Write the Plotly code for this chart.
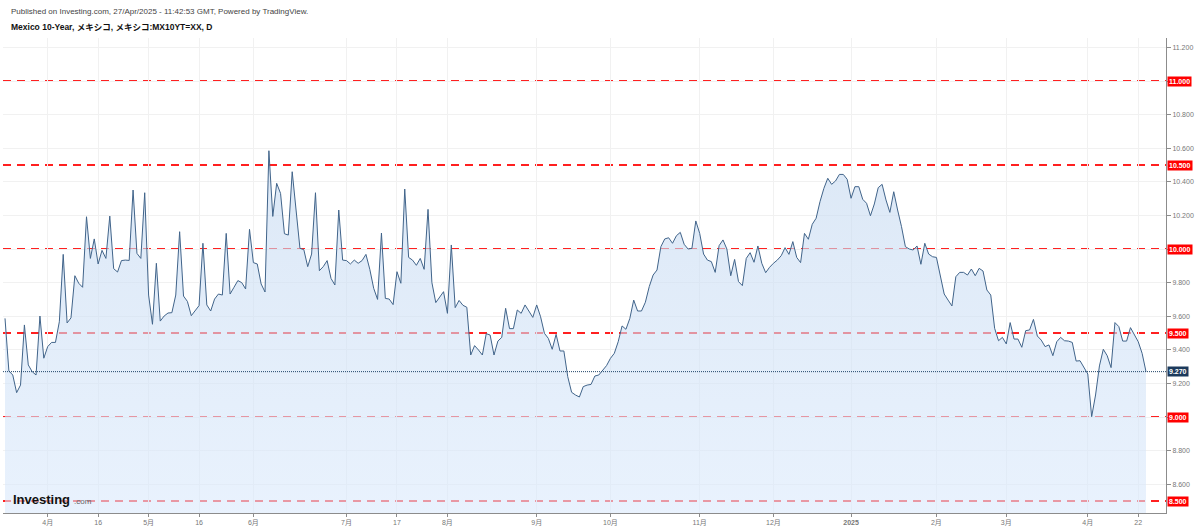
import plotly.graph_objects as go

# ---- data ----
values = [
    9.587, 9.274, 9.25, 9.145, 9.19, 9.548, 9.31, 9.27, 9.25, 9.601, 9.35, 9.419, 9.444, 9.444, 9.567,
    9.968, 9.56, 9.59, 9.841, 9.796, 9.772, 10.192, 9.944, 10.06, 9.911, 9.992, 9.944, 10.196, 9.883,
    9.863, 9.931, 9.934, 9.932, 10.351, 9.974, 9.944, 10.335, 9.726, 9.552, 9.915, 9.571, 9.601, 9.619,
    9.621, 9.726, 10.103, 9.72, 9.688, 9.603, 9.633, 9.663, 10.034, 9.667, 9.631, 9.702, 9.732, 9.726,
    10.093, 9.732, 9.772, 9.812, 9.8, 9.762, 10.117, 9.919, 9.911, 9.792, 9.744, 10.585, 10.194, 10.391,
    10.331, 10.091, 10.083, 10.46, 10.232, 10.004,
    9.996, 9.895, 9.97, 10.335, 9.871, 9.895, 9.931, 9.825, 9.786, 10.232, 9.934, 9.931, 9.911, 9.934,
    9.915, 9.931, 9.968, 9.879, 9.766, 9.7, 10.095, 9.706, 9.702, 9.669, 9.865, 9.796, 10.357, 9.95,
    9.934, 9.903, 9.944, 9.879, 10.236, 9.8, 9.681, 9.71, 9.746, 9.617, 10.024, 9.651, 9.694, 9.665,
    9.653, 9.369, 9.425, 9.399, 9.369, 9.496, 9.488, 9.369, 9.452, 9.474, 9.647, 9.526, 9.526, 9.637,
    9.617, 9.667, 9.627, 9.593, 9.667, 9.597, 9.498, 9.468,
    9.403, 9.492, 9.393, 9.393, 9.24, 9.147, 9.131, 9.119, 9.181, 9.19, 9.194, 9.244, 9.25, 9.28, 9.306,
    9.349, 9.379, 9.448, 9.542, 9.522, 9.587, 9.696, 9.631, 9.631, 9.683, 9.776, 9.845, 9.875, 10.014,
    10.06, 10.067, 10.034, 10.079, 10.099, 10.028, 10.0, 10.004, 10.167, 10.093, 9.97, 9.934, 9.925,
    9.861, 10.02, 10.054, 10.0, 9.841, 9.938, 9.806, 9.782, 9.944, 9.978, 9.921, 10.018, 9.915, 9.859,
    9.891, 9.915, 9.934, 9.96, 10.008, 9.968, 10.044, 9.95, 9.919, 10.093, 10.058, 10.147, 10.183,
    10.282, 10.361, 10.421, 10.385, 10.405, 10.444, 10.444, 10.415,
    10.302, 10.371, 10.371, 10.296, 10.272, 10.198, 10.268, 10.365, 10.385, 10.292, 10.218, 10.341,
    10.232, 10.133, 10.014, 10.0, 9.994, 10.018, 9.909, 10.034, 9.97, 9.954, 9.95, 9.845, 9.732, 9.696,
    9.661, 9.835, 9.861, 9.861, 9.845, 9.881, 9.841, 9.885, 9.869, 9.756, 9.726, 9.528, 9.454, 9.474,
    9.435, 9.562, 9.464, 9.464, 9.415, 9.514, 9.518, 9.581, 9.482, 9.458, 9.419, 9.429, 9.365, 9.448,
    9.474, 9.454, 9.452, 9.444, 9.333, 9.335, 9.294, 9.256, 9.002, 9.131, 9.304, 9.403, 9.365, 9.294,
    9.562, 9.538, 9.452, 9.452, 9.532, 9.488, 9.448, 9.379, 9.27,
]
tick_idx = [11, 24, 37, 50, 64, 88, 101, 114, 137, 156, 179, 198, 218, 240, 258, 279, 292]
tick_text = ["4月", "16", "5月", "16", "6月", "7月", "17", "8月", "9月", "10月", "11月", "12月",
             "<b>2025</b>", "2月", "3月", "4月", "22"]
levels = [11.0, 10.5, 10.0, 9.5, 9.0, 8.5]
last_value = 9.27
y_ticks = [8.6, 8.8, 9.0, 9.2, 9.4, 9.6, 9.8, 10.0, 10.2, 10.4, 10.6, 10.8, 11.0, 11.2]

header = "Published on Investing.com, 27/Apr/2025 - 11:42:53 GMT, Powered by TradingView."
title = "Mexico 10-Year, メキシコ, メキシコ:MX10YT=XX, D"

# ---- layout geometry ----
W, H = 1200, 530
PL, PR, PT, PB = 3, 1166, 38, 513
n = len(values)
ppi = (1146 - 5) / (n - 1)
x_range = [-(5 - PL) / ppi, (n - 1) + (PR - 1146) / ppi]
y_range = [8.4286, 11.256]


def px2paper(px):
    return (px - PL) / (PR - PL)


def py2paper(py):
    return (PB - py) / (PB - PT)


FONT = "Arial, 'Liberation Sans', 'Noto Sans CJK JP', sans-serif"

# y tick labels hidden where a level badge covers them (as in the reference)
y_ticktext = ["" if any(abs(t - lv) < 1e-9 for lv in levels) else f"{t:.3f}" for t in y_ticks]

fig = go.Figure()
fig.add_trace(go.Scatter(
    x=list(range(n)), y=values, mode="lines",
    line=dict(color="#41648a", width=1),
    fill="tozeroy",
    fillgradient=dict(type="vertical",
                      colorscale=[[0, "rgba(218,233,252,0.6)"], [1, "rgba(197,217,240,0.6)"]],
                      start=y_range[0], stop=10.6),
    hoverinfo="skip", showlegend=False,
))

shapes = []
for lv in levels:
    shapes.append(dict(type="line", xref="paper", x0=0, x1=1, yref="y", y0=lv, y1=lv,
                       layer="below", line=dict(color="#ff2020", width=1.8, dash="8px,6px")))
shapes.append(dict(type="line", xref="paper", x0=0, x1=1, yref="y", y0=last_value, y1=last_value,
                   layer="above", line=dict(color="#1f4468", width=1, dash="1px,1px")))

annotations = []
for lv in levels:
    annotations.append(dict(xref="paper", x=1, xanchor="left", yref="y", y=lv, yanchor="middle",
                            text=f"<b>{lv:.3f}</b>", showarrow=False, bgcolor="#ff0000",
                            font=dict(family=FONT, size=7, color="white"), borderpad=1,
                            xshift=1))
annotations.append(dict(xref="paper", x=1, xanchor="left", yref="y", y=last_value, yanchor="middle",
                        text=f"<b>{last_value:.3f}</b>", showarrow=False, bgcolor="#1c3a5c",
                        font=dict(family=FONT, size=7, color="white"), borderpad=1, xshift=1))
annotations.append(dict(xref="paper", yref="paper", x=px2paper(9), y=py2paper(11), xanchor="left",
                        yanchor="middle", text=header, showarrow=False,
                        font=dict(family=FONT, size=8, color="#444")))
annotations.append(dict(xref="paper", yref="paper", x=px2paper(9), y=py2paper(27), xanchor="left",
                        yanchor="middle", text=f"<b>{title}</b>", showarrow=False,
                        font=dict(family=FONT, size=8.5, color="#111")))
annotations.append(dict(xref="paper", yref="paper", x=px2paper(11), y=py2paper(499), xanchor="left",
                        yanchor="middle", text="<b>Investing</b>", showarrow=False,
                        font=dict(family="'Liberation Sans', Arial, sans-serif", size=13,
                                  color="#111")))
annotations.append(dict(xref="paper", yref="paper", x=px2paper(72), y=py2paper(501), xanchor="left",
                        yanchor="middle", text=".com", showarrow=False,
                        font=dict(family=FONT, size=8, color="#666")))

fig.update_layout(
    width=W, height=H,
    margin=dict(l=PL, r=W - PR, t=PT, b=H - PB, pad=0),
    paper_bgcolor="white", plot_bgcolor="white",
    shapes=shapes, annotations=annotations,
    showlegend=False,
    xaxis=dict(range=x_range, tickmode="array", tickvals=tick_idx, ticktext=tick_text,
               showgrid=True, gridcolor="#f1f1f1", gridwidth=1, zeroline=False,
               showline=True, linecolor="#8c8c8c", linewidth=1,
               ticks="outside", ticklen=3, tickcolor="#8c8c8c",
               tickfont=dict(family=FONT, size=7, color="#777")),
    yaxis=dict(range=y_range, side="right", tickmode="array", tickvals=y_ticks, ticktext=y_ticktext,
               showgrid=True, gridcolor="#f1f1f1", gridwidth=1, zeroline=False,
               showline=True, linecolor="#8c8c8c", linewidth=1,
               ticks="outside", ticklen=4, tickcolor="#8c8c8c",
               tickfont=dict(family=FONT, size=7, color="#777")),
)

fig.write_html("out.html", config={"displayModeBar": False},
               post_script="document.body.style.margin='0';document.body.style.padding='0';"
                           "document.documentElement.style.overflow='hidden';")
